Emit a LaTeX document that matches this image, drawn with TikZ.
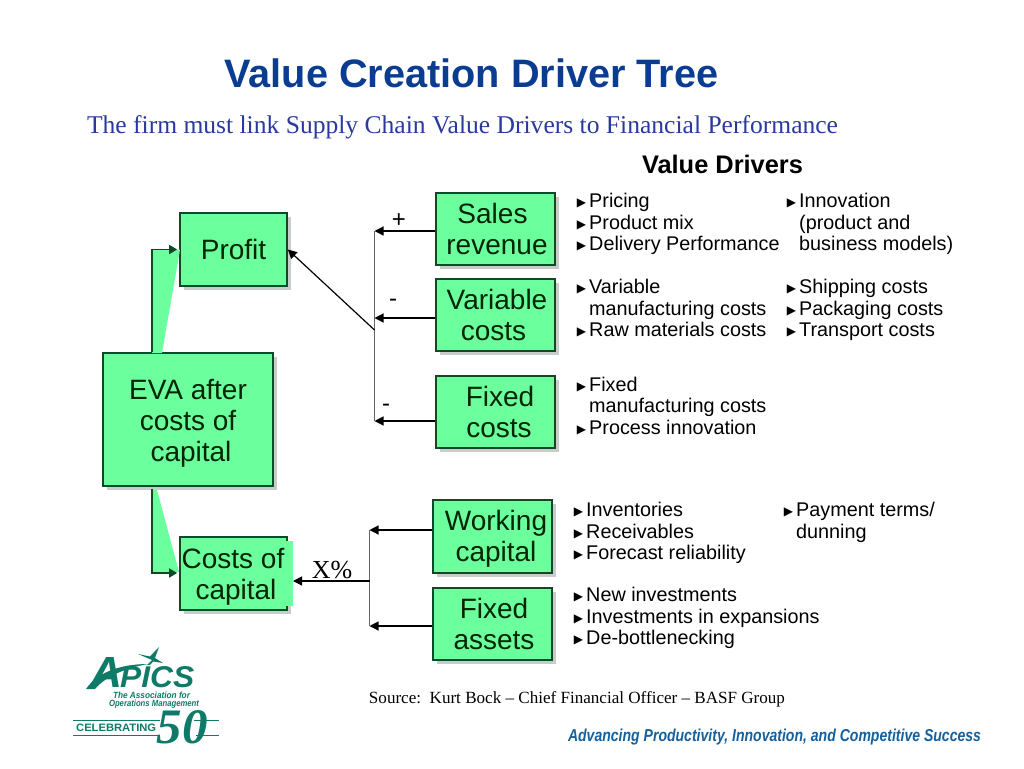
\documentclass[tikz,border=0pt]{standalone}
\usepackage{fontspec}
\usepackage{graphicx}
\setmainfont{Liberation Sans}
\newfontfamily\timesf{Liberation Serif}
\newfontfamily\dejaf{DejaVu Sans}
\usetikzlibrary{arrows.meta,shadows}
\definecolor{boxgreen}{HTML}{6CFF9E}
\definecolor{boxedge}{HTML}{0E4A2A}
\definecolor{boxshadow}{HTML}{C9CDC9}
\definecolor{titleblue}{HTML}{0A3C92}
\definecolor{subblue}{HTML}{2A3A9C}
\definecolor{logoteal}{HTML}{0F7A68}
\definecolor{tagblue}{HTML}{14609E}
\definecolor{busgrey}{HTML}{666666}
\newcommand{\bl}{\leavevmode\llap{\raisebox{1pt}{\dejaf\fontsize{12}{12}\selectfont ▶}\kern3pt}}
\newcommand{\sh}[1]{\kern#1pt\relax}
\newcommand{\dn}[1]{\rule{0pt}{#1pt}}
\tikzset{
  x=1pt,y=-1pt,
  drv/.style={draw=boxedge,line width=1.6pt,fill=boxgreen,inner sep=0pt,align=center,
    text=black!85!green,font=\fontsize{28}{31}\selectfont,
    drop shadow={shadow xshift=4pt,shadow yshift=-4pt,fill=boxshadow,opacity=1}},
  small/.style={drv,minimum width=107pt,minimum height=73pt},
  med/.style={drv,minimum width=119pt,minimum height=72.5pt},
  big/.style={drv,minimum width=170pt,minimum height=133pt},
  arr/.style={line width=1.2pt,-{Triangle[length=9pt,width=9pt]}},
  bus/.style={line width=1.8pt,draw=busgrey},
  elbow/.style={line width=1.6pt,draw=boxedge,-{Triangle[length=8pt,width=9pt]},shorten >=2pt},
  wedge/.style={fill=boxgreen,draw=none},
  points/.style={anchor=north west,inner sep=0pt,align=left,font=\fontsize{19.8}{21.5}\selectfont},
  sign/.style={inner sep=0pt,font=\fontsize{24}{24}\selectfont},
  logo/.style={inner sep=0pt,text=logoteal},
}
\begin{document}
\begin{tikzpicture}
\useasboundingbox (0,0) rectangle (1024,768);

% titles
\node[inner sep=0pt,text=titleblue] (title) at (471.5,73)
  {\resizebox{494pt}{!}{\fontsize{37}{37}\selectfont\bfseries Value Creation Driver Tree}};
\node[inner sep=0pt,text=subblue] (subtitle) at (462.5,127)
  {\resizebox{751pt}{!}{\timesf\fontsize{24}{24}\selectfont The firm must link Supply Chain Value Drivers to Financial Performance}};
\node[inner sep=0pt] (vd) at (722.5,164)
  {\resizebox{161pt}{!}{\fontsize{23}{23}\selectfont\bfseries Value Drivers}};

% boxes
\node[small] (profit) at (233.5,249.5) {Profit};
\node[big] (eva) at (188,419.5) {\dn{27}EVA after\\costs of\\\sh{6}capital};
\node[small] (coc) at (233.5,573.5) {\dn{27}\sh{-1}Costs of\\\sh{5}capital};
\fill[boxgreen] (286,541) rectangle (293,606);
\node[med] (sales) at (495.5,229) {\sh{-6}Sales\\\sh{3}revenue};
\node[med] (var) at (495.5,315) {\sh{3}Variable\\\sh{-4}costs};
\node[med] (fix) at (495.5,412) {\sh{9}Fixed\\\sh{7}costs};
\node[med] (work) at (492.5,536.5) {\dn{25}\sh{7}Working\\\sh{7}capital};
\node[med] (assets) at (492.5,624) {\sh{3}Fixed\\\sh{3}assets};

% EVA to Profit / Costs of capital callouts
\coordinate (elbowT) at (152,249.5);
\coordinate (elbowB) at (152,573);
\fill[wedge] (152,353) -- (152,249.5) -- (180,249.5) -- (162,353) -- cycle;
\fill[wedge] (152,490) -- (157,490) -- (179,572) -- (152,573) -- cycle;
\draw[elbow] (elbowT |- eva.north) |- (profit.west);
\draw[elbow] (152,489) |- (coc.west |- elbowB);

% upper bus
\coordinate (busT) at (374.5,231);
\coordinate (busM) at (374.5,318);
\coordinate (busJ) at (374.5,330);
\coordinate (busB) at (374.5,421);
\draw[bus] (busT) -- (busB);
\draw[arr] (sales.west |- busT) -- (busT);
\draw[arr] (var.west |- busM) -- (busM);
\draw[arr] (fix.west |- busB) -- (busB);
\draw[arr] (busJ) -- (profit.east);

% lower bus
\coordinate (lowT) at (369.5,530);
\coordinate (lowM) at (369.5,581);
\coordinate (lowB) at (369.5,626);
\draw[bus] (lowT) -- (lowB);
\draw[arr] (work.west |- lowT) -- (lowT);
\draw[arr] (assets.west |- lowB) -- (lowB);
\draw[arr] (lowM) -- (293,581);

% signs
\node[sign] (plus) at (399,221) {+};
\node[sign] (m1) at (393,303) {-};
\node[sign] (m2) at (386,408) {-};
\node[sign,font=\timesf\fontsize{26}{26}\selectfont] (xp) at (332,570) {X\%};

% value driver lists
\node[points] (p1) at (589,193) {\bl Pricing\\\bl Product mix\\\bl Delivery Performance};
\node[points] (p2) at (799,193) {\bl Innovation\\(product and\\business models)};
\node[points] (p3) at (589,279) {\bl Variable\\manufacturing costs\\\bl Raw materials costs};
\node[points] (p4) at (799,279) {\bl Shipping costs\\\bl Packaging costs\\\bl Transport costs};
\node[points] (p5) at (589,376.5) {\bl Fixed\\manufacturing costs\\\bl Process innovation};
\node[points] (p6) at (586,502) {\bl Inventories\\\bl Receivables\\\bl Forecast reliability};
\node[points] (p7) at (796,502) {\bl Payment terms/\\dunning};
\node[points] (p8) at (586,587) {\bl New investments\\\bl Investments in expansions\\\bl De-bottlenecking};

% source and tagline
\node[inner sep=0pt] (src) at (577,699.5)
  {\resizebox{416pt}{!}{\timesf\fontsize{15.5}{15.5}\selectfont Source:\ \ Kurt Bock – Chief Financial Officer – BASF Group}};
\node[inner sep=0pt,text=tagblue] (tag) at (774.5,737.5)
  {\resizebox{413pt}{12.5pt}{\fontsize{16}{16}\selectfont\bfseries\itshape Advancing Productivity, Innovation, and Competitive Success}};

% logo
\node[logo,anchor=south west] (logoA) at (90,688)
  {\resizebox{32pt}{30pt}{\bfseries\itshape A}};
\node[logo,anchor=south west] (logoB) at (120,688)
  {\resizebox{74pt}{21pt}{\bfseries\itshape PICS}};
\fill[logoteal] (86,689) .. controls (96,674) and (118,664) .. (148,664)
  .. controls (126,668) and (106,676) .. (95,689) -- cycle;
\fill[logoteal] (152,660) -- (138,654) -- (150,656.5) -- (159,647) -- (155,658) -- (163,663) -- (153,661.5) -- (150,665) -- (147,665) -- cycle;
\node[logo] (assoc1) at (151.5,695)
  {\resizebox{77pt}{6.5pt}{\bfseries\itshape The Association for}};
\node[logo] (assoc2) at (154,704)
  {\resizebox{90pt}{6.5pt}{\bfseries\itshape Operations Management}};
\draw[logoteal,line width=0.8pt] (73,720) -- (160,720) (194,720) -- (219,720);
\draw[logoteal,line width=0.8pt] (73,735.5) -- (158,735.5) (196,735.5) -- (219,735.5);
\node[logo,anchor=west] (celeb) at (76,728)
  {\resizebox{80pt}{7.5pt}{\bfseries CELEBRATING}};
\node[logo,anchor=south] (fifty) at (182,744)
  {\resizebox{51pt}{33pt}{\timesf\bfseries\itshape 50}};
\end{tikzpicture}
\end{document}
